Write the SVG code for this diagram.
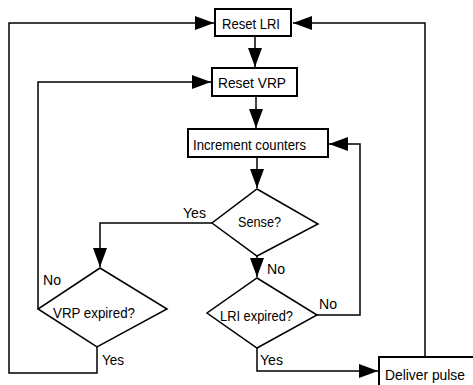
<svg xmlns="http://www.w3.org/2000/svg" width="473" height="385" viewBox="0 0 473 385">
<style>
.box{fill:#fff;stroke:#000;stroke-width:2}
.dia{fill:#fff;stroke:#000;stroke-width:1.5}
.ln{fill:none;stroke:#000;stroke-width:1.5;stroke-linejoin:miter}
.t{font-family:"Liberation Sans",Arial,sans-serif;font-size:15px;fill:#000}
</style>
<defs>
<marker id="ah" markerUnits="userSpaceOnUse" markerWidth="19" markerHeight="14" refX="19" refY="7" orient="auto">
<path d="M0,0 L19,7 L0,14 z" fill="#000"/>
</marker>
</defs>
<g id="connectors">
<polyline class="ln" points="97,347 97,373 9,373 9,23 214,23" marker-end="url(#ah)"/>
<polyline class="ln" points="38,309 38,82 211,82" marker-end="url(#ah)"/>
<polyline class="ln" points="255,36 255,67" marker-end="url(#ah)"/>
<polyline class="ln" points="256,96 256,128" marker-end="url(#ah)"/>
<polyline class="ln" points="317,315 360,315 360,144 329,144" marker-end="url(#ah)"/>
<polyline class="ln" points="257,157 257,188" marker-end="url(#ah)"/>
<polyline class="ln" points="212,223 100,223 100,267" marker-end="url(#ah)"/>
<polyline class="ln" points="257,256 257,277" marker-end="url(#ah)"/>
<polyline class="ln" points="257,348 257,371 378,371" marker-end="url(#ah)"/>
<polyline class="ln" points="425,357 425,23 293,23" stroke="#333" marker-end="url(#ah)"/>
<text class="t" x="183" y="218" textLength="23" lengthAdjust="spacingAndGlyphs">Yes</text>
<text class="t" x="267" y="274" textLength="18" lengthAdjust="spacingAndGlyphs">No</text>
<text class="t" x="43" y="285" textLength="18" lengthAdjust="spacingAndGlyphs">No</text>
<text class="t" x="319" y="309" textLength="18" lengthAdjust="spacingAndGlyphs">No</text>
<text class="t" x="102" y="365" textLength="22" lengthAdjust="spacingAndGlyphs">Yes</text>
<text class="t" x="260" y="365" textLength="23" lengthAdjust="spacingAndGlyphs">Yes</text>
</g>
<g id="reset-lri">
<rect class="box" x="215" y="9" width="76" height="27" stroke-width="2.5"/>
<text class="t" x="222" y="29" textLength="58" lengthAdjust="spacingAndGlyphs">Reset LRI</text>
</g>
<g id="reset-vrp">
<rect class="box" x="212" y="68" width="85" height="28"/>
<text class="t" x="218" y="88" textLength="68" lengthAdjust="spacingAndGlyphs">Reset VRP</text>
</g>
<g id="increment-counters">
<rect class="box" x="188" y="129" width="140" height="28"/>
<text class="t" x="193" y="150" textLength="113" lengthAdjust="spacingAndGlyphs">Increment counters</text>
</g>
<g id="sense">
<polygon class="dia" points="257,189 318,224 257,256 212,223"/>
<text class="t" x="238" y="227" textLength="43" lengthAdjust="spacingAndGlyphs">Sense?</text>
</g>
<g id="vrp-expired">
<polygon class="dia" points="100,268 167,309 97,347 38,309"/>
<text class="t" x="53" y="318" textLength="82" lengthAdjust="spacingAndGlyphs">VRP expired?</text>
</g>
<g id="lri-expired">
<polygon class="dia" points="257,278 317,315 257,348 207,313"/>
<text class="t" x="220" y="321" textLength="73" lengthAdjust="spacingAndGlyphs">LRI expired?</text>
</g>
<g id="deliver-pulse">
<rect class="box" x="379" y="357" width="110" height="40"/>
<text class="t" x="385" y="380" textLength="80" lengthAdjust="spacingAndGlyphs">Deliver pulse</text>
</g>
</svg>
